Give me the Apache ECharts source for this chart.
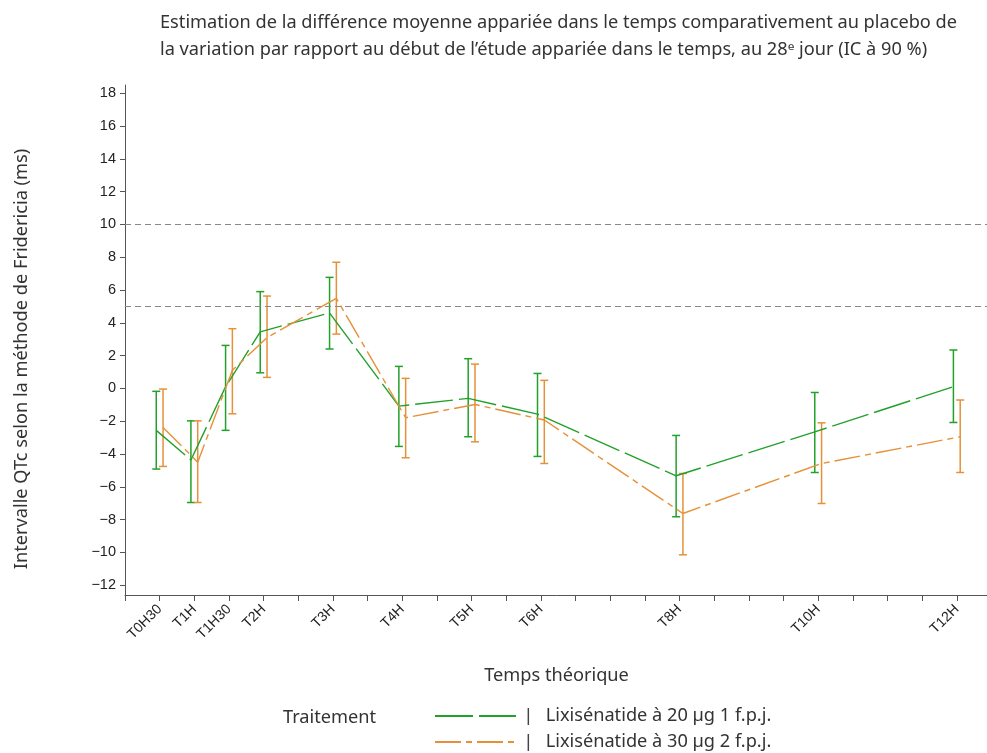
<!DOCTYPE html>
<html>
<head>
<meta charset="utf-8">
<script src="https://cdn.jsdelivr.net/npm/echarts@6/dist/echarts.min.js"></script>
<style>
html,body{margin:0;padding:0;background:#fff;}
#chart{width:987px;height:753px;}
</style>
</head>
<body>
<div id="chart"></div>
<script>
// ---- data ----
const times = [0.5, 1, 1.5, 2, 3, 4, 5, 6, 8, 10, 12];
const timeLabels = ['T0H30', 'T1H', 'T1H30', 'T2H', 'T3H', 'T4H', 'T5H', 'T6H', 'T8H', 'T10H', 'T12H'];
const seriesNames = ['Lixisénatide à 20 µg 1 f.p.j.', 'Lixisénatide à 30 µg 2 f.p.j.'];
const mean20 = [-2.56, -4.37, 0.10, 3.45, 4.60, -1.08, -0.61, -1.57, -5.33, -2.65, 0.10];
const lo20   = [-4.92, -6.96, -2.56, 0.95, 2.40, -3.54, -2.95, -4.15, -7.83, -5.13, -2.08];
const hi20   = [-0.18, -1.98, 2.62, 5.90, 6.77, 1.34, 1.81, 0.91, -2.87, -0.25, 2.34];
const mean30 = [-2.38, -4.50, 1.10, 3.10, 5.49, -1.79, -0.98, -1.93, -7.63, -4.58, -2.95];
const lo30   = [-4.76, -6.96, -1.55, 0.67, 3.31, -4.23, -3.26, -4.58, -10.15, -7.02, -5.13];
const hi30   = [-0.04, -1.98, 3.64, 5.63, 7.69, 0.61, 1.48, 0.49, -5.19, -2.10, -0.71];
const yTicks = [-12, -10, -8, -6, -4, -2, 0, 2, 4, 6, 8, 10, 12, 14, 16, 18];
const xTicks = [0, 0.5, 1, 1.5, 2, 2.5, 3, 3.5, 4, 4.5, 5, 5.5, 6, 6.5, 7, 7.5, 8, 8.5, 9, 9.5, 10, 10.5, 11, 11.5, 12];
const refLines = [10, 5];

// ---- styles ----
const GREEN = '#22a12a';
const ORANGE = '#e5913a';
const DODGE = 0.049;
const TXT = 'Noto Sans, Open Sans, sans-serif';
const NUM = 'Liberation Sans, Arial, sans-serif';
const FS = 18.2;

function errSeries(name, color, offset, lo, hi) {
  return {
    name: name,
    type: 'custom',
    z: 3,
    silent: true,
    data: times.map((t, i) => [t + offset, lo[i], hi[i]]),
    encode: { x: 0, y: [1, 2] },
    renderItem: function (params, api) {
      const x = api.value(0);
      const a = api.coord([x, api.value(2)]);
      const b = api.coord([x, api.value(1)]);
      const cap = 4;
      const st = { stroke: color, lineWidth: 1.5 };
      return {
        type: 'group',
        children: [
          { type: 'line', shape: { x1: a[0], y1: a[1], x2: b[0], y2: b[1] }, style: st },
          { type: 'line', shape: { x1: a[0] - cap, y1: a[1], x2: a[0] + cap, y2: a[1] }, style: st },
          { type: 'line', shape: { x1: b[0] - cap, y1: b[1], x2: b[0] + cap, y2: b[1] }, style: st }
        ]
      };
    }
  };
}

const chart = echarts.init(document.getElementById('chart'), null, { renderer: 'canvas' });
chart.setOption({
  backgroundColor: '#fff',
  animation: false,
  title: [{
    text: 'Estimation de la différence moyenne appariée dans le temps comparativement au placebo de\nla variation par rapport au début de l’étude appariée dans le temps, au 28ᵉ jour (IC à 90 %)',
    left: 160, top: 10, padding: 0,
    textStyle: { fontFamily: TXT, fontSize: FS, fontWeight: 'normal', color: '#333', lineHeight: 26.5 }
  }, {
    text: 'Traitement',
    left: 283, top: 707, padding: 0,
    textStyle: { fontFamily: TXT, fontSize: FS, fontWeight: 'normal', color: '#333', lineHeight: 22 }
  }],
  legend: {
    data: seriesNames,
    orient: 'vertical',
    left: 434, top: 707, padding: 0,
    itemWidth: 81, itemHeight: 14, itemGap: 8,
    itemStyle: { opacity: 0 },
    formatter: function (n) { return '{bar||}' + n; },
    textStyle: {
      fontFamily: TXT, fontSize: FS, color: '#333', lineHeight: 18,
      rich: { bar: { fontFamily: NUM, fontSize: 18, color: '#444', lineHeight: 18, padding: [0, 15, 0, 5] } }
    }
  },
  grid: { left: 125, right: -1, top: 85, bottom: 158, containLabel: false, outerBoundsMode: 'none' },
  xAxis: {
    type: 'value', min: 0, max: 12.45,
    name: 'Temps théorique', nameLocation: 'middle', nameGap: 72,
    nameTextStyle: { fontFamily: TXT, fontSize: FS, color: '#333' },
    axisLine: { onZero: false, lineStyle: { color: '#555', width: 1 } },
    axisTick: { customValues: xTicks, length: 6, lineStyle: { color: '#555' } },
    axisLabel: {
      customValues: times, rotate: 45, margin: 12,
      fontFamily: NUM, fontSize: 14, color: '#222',
      formatter: function (v) { const i = times.indexOf(v); return i >= 0 ? timeLabels[i] : ''; }
    },
    splitLine: { show: false }
  },
  yAxis: {
    type: 'value', min: -12.6, max: 18.5,
    name: 'Intervalle QTc selon la méthode de Fridericia (ms)', nameLocation: 'middle', nameGap: 94,
    nameTextStyle: { fontFamily: TXT, fontSize: FS, color: '#333', padding: [0, 38, 0, 0] },
    axisLine: { show: true, onZero: false, lineStyle: { color: '#555', width: 1 } },
    axisTick: { show: true, customValues: yTicks, length: 5, lineStyle: { color: '#555' } },
    axisLabel: { customValues: yTicks, margin: 9, fontFamily: NUM, fontSize: 14.5, color: '#222',
      formatter: function (v) { return v < 0 ? '\u2212' + Math.abs(v) : String(v); } },
    splitLine: { show: false }
  },
  series: [
    {
      name: seriesNames[0], type: 'line', symbol: 'none', z: 4,
      data: times.map((t, i) => [t - DODGE, mean20[i]]),
      lineStyle: { color: GREEN, width: 1.4, type: [38, 6] },
      itemStyle: { color: GREEN },
      markLine: {
        silent: true, symbol: 'none', label: { show: false },
        lineStyle: { color: '#888', type: [6, 4], width: 1 },
        data: refLines.map(v => ({ yAxis: v }))
      }
    },
    {
      name: seriesNames[1], type: 'line', symbol: 'none', z: 4,
      data: times.map((t, i) => [t + DODGE, mean30[i]]),
      lineStyle: { color: ORANGE, width: 1.4, type: [26, 5, 6, 5] },
      itemStyle: { color: ORANGE }
    },
    errSeries('err20', GREEN, -DODGE, lo20, hi20),
    errSeries('err30', ORANGE, DODGE, lo30, hi30)
  ]
});
</script>
</body>
</html>
